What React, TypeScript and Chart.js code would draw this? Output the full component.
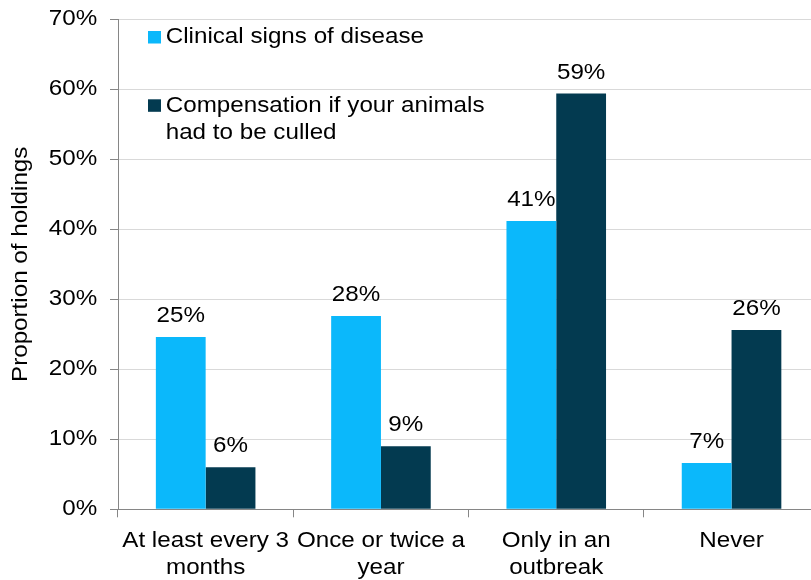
import React, { useEffect, useRef } from "react";
import { Chart, registerables } from "chart.js";

Chart.register(...registerables);

// Survey answers: how often holdings receive information on each topic
const categories: string[][] = [
  ["At least every 3", "months"],
  ["Once or twice a", "year"],
  ["Only in an", "outbreak"],
  ["Never"],
];
const seriesNames = [
  "Clinical signs of disease",
  "Compensation if your animals had to be culled",
];
const clinicalSigns = [24.6, 27.6, 41.2, 6.6];
const compensation = [6.0, 9.0, 59.4, 25.6];
const yTicks = [0, 10, 20, 30, 40, 50, 60, 70];
const legendLines = [
  ["Clinical signs of disease"],
  ["Compensation if your animals", "had to be culled"],
];

const seriesColors = ["#0BB8FB", "#033A50"];
const FONT = "'Liberation Sans', Arial, Helvetica, sans-serif";
const FONT_SIZE = 22;
const TEXT_STRETCH = 1.1;
const AXIS_GREY = "#868686";
const GRID_GREY = "#D9D9D9";

const CANVAS_W = 821;
const CANVAS_H = 580;

// Draw all canvas text with wide (horizontally stretched) glyphs
function useWideText(ctx: any) {
  if (!ctx || ctx.__wideText) return;
  const fill = ctx.fillText.bind(ctx);
  const measure = ctx.measureText.bind(ctx);
  ctx.fillText = (text: string, x: number, y: number, maxWidth?: number) => {
    ctx.save();
    ctx.translate(x, y);
    ctx.scale(TEXT_STRETCH, 1);
    if (maxWidth === undefined || maxWidth === null) fill(text, 0, 0);
    else fill(text, 0, 0, maxWidth / TEXT_STRETCH);
    ctx.restore();
  };
  ctx.measureText = (text: string) => {
    const m = measure(text);
    return {
      width: m.width * TEXT_STRETCH,
      actualBoundingBoxLeft: m.actualBoundingBoxLeft * TEXT_STRETCH,
      actualBoundingBoxRight: m.actualBoundingBoxRight * TEXT_STRETCH,
      actualBoundingBoxAscent: m.actualBoundingBoxAscent,
      actualBoundingBoxDescent: m.actualBoundingBoxDescent,
      fontBoundingBoxAscent: m.fontBoundingBoxAscent,
      fontBoundingBoxDescent: m.fontBoundingBoxDescent,
    };
  };
  ctx.__wideText = true;
}

// Percent labels above every bar
const valueLabelPlugin = {
  id: "valueLabels",
  afterDatasetsDraw(chart: any) {
    const ctx = chart.ctx;
    ctx.save();
    ctx.font = `${FONT_SIZE}px ${FONT}`;
    ctx.fillStyle = "#000";
    ctx.textAlign = "center";
    ctx.textBaseline = "alphabetic";
    chart.data.datasets.forEach((ds: any, di: number) => {
      const meta = chart.getDatasetMeta(di);
      meta.data.forEach((bar: any, i: number) => {
        const v = ds.data[i] as number;
        ctx.fillText(`${Math.round(v)}%`, bar.x, bar.y - 15);
      });
    });
    ctx.restore();
  },
};

// Legend drawn inside the plot, top-left
const legendPlugin = {
  id: "insideLegend",
  afterDraw(chart: any) {
    const ctx = chart.ctx;
    const entries = [
      { boxY: 31, baselines: [43.3] },
      { boxY: 99.3, baselines: [111.7, 139.3] },
    ];
    ctx.save();
    ctx.font = `${FONT_SIZE}px ${FONT}`;
    ctx.textAlign = "left";
    ctx.textBaseline = "alphabetic";
    entries.forEach((e, i) => {
      ctx.fillStyle = seriesColors[i];
      ctx.fillRect(148, e.boxY, 13, 12.5);
      ctx.fillStyle = "#000";
      legendLines[i].forEach((line, li) => {
        ctx.fillText(line, 165.7, e.baselines[li]);
      });
    });
    ctx.restore();
  },
};

export default function App() {
  const canvasRef = useRef<HTMLCanvasElement | null>(null);

  useEffect(() => {
    const canvas = canvasRef.current;
    if (!canvas) return;
    useWideText(canvas.getContext("2d"));
    const chart = new Chart(canvas, {
      type: "bar",
      data: {
        labels: categories,
        datasets: [
          {
            label: seriesNames[0],
            data: clinicalSigns,
            backgroundColor: seriesColors[0],
            borderWidth: 0,
            categoryPercentage: 0.568,
            barPercentage: 1.0,
          },
          {
            label: seriesNames[1],
            data: compensation,
            backgroundColor: seriesColors[1],
            borderWidth: 0,
            categoryPercentage: 0.568,
            barPercentage: 1.0,
          },
        ],
      },
      options: {
        responsive: false,
        animation: false,
        devicePixelRatio: 1,
        layout: { padding: { top: 19.3, right: 1.8, bottom: 0, left: 0 } },
        plugins: {
          legend: { display: false },
          tooltip: { enabled: false },
        },
        scales: {
          x: {
            offset: true,
            grid: {
              offset: true,
              drawOnChartArea: false,
              drawTicks: true,
              tickLength: 8,
              tickColor: AXIS_GREY,
            },
            border: { color: AXIS_GREY, width: 1 },
            ticks: {
              font: { family: FONT, size: FONT_SIZE, lineHeight: 1.25 },
              color: "#000",
              padding: 9.5,
              maxRotation: 0,
              autoSkip: false,
            },
            afterFit(scale: any) {
              scale.height = CANVAS_H - 509.3;
              scale.paddingLeft = 0;
              scale.paddingRight = 0;
            },
          },
          y: {
            min: 0,
            max: 70,
            afterBuildTicks(scale: any) {
              scale.ticks = yTicks.map((v) => ({ value: v }));
            },
            ticks: {
              callback: (v: any) => `${v}%`,
              font: { family: FONT, size: FONT_SIZE },
              color: "#000",
              padding: 12.8,
            },
            grid: {
              color: (c: any) =>
                c.tick && c.tick.value === 0 ? AXIS_GREY : GRID_GREY,
              tickColor: AXIS_GREY,
              tickLength: 8,
            },
            border: { color: AXIS_GREY, width: 1 },
            title: {
              display: true,
              text: "Proportion of holdings",
              font: { family: FONT, size: FONT_SIZE },
              color: "#000",
              padding: { top: 7.3, bottom: 0 },
            },
            afterFit(scale: any) {
              scale.width = 118;
              scale.paddingTop = 0;
              scale.paddingBottom = 0;
            },
          },
        },
      } as any,
      plugins: [valueLabelPlugin, legendPlugin],
    });
    return () => chart.destroy();
  }, []);

  return (
    <div
      style={{
        position: "fixed",
        left: 0,
        top: 0,
        width: 811,
        height: 580,
        overflow: "hidden",
        background: "#fff",
      }}
    >
      <canvas
        ref={canvasRef}
        width={CANVAS_W}
        height={CANVAS_H}
        style={{ display: "block", width: CANVAS_W, height: CANVAS_H }}
      />
    </div>
  );
}
